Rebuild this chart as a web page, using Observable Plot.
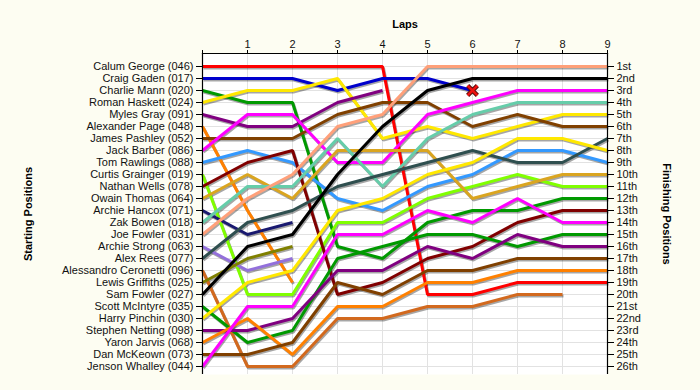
<!DOCTYPE html>
<html>
<head>
<meta charset="utf-8">
<script src="https://cdn.jsdelivr.net/npm/d3@7"></script>
<script src="https://cdn.jsdelivr.net/npm/@observablehq/plot@0.6"></script>
<style>
  html, body { margin: 0; padding: 0; background: #FDFDF2; }
  #chart svg { display: block; }
</style>
</head>
<body>
<div id="chart"></div>
<script>
// Drivers in starting-grid order
const drivers = [
  "Calum George (046)", "Craig Gaden (017)", "Charlie Mann (020)", "Roman Haskett (024)",
  "Myles Gray (091)", "Alexander Page (048)", "James Pashley (052)", "Jack Barber (086)",
  "Tom Rawlings (088)", "Curtis Grainger (019)", "Nathan Wells (078)", "Owain Thomas (064)",
  "Archie Hancox (071)", "Zak Bowen (018)", "Joe Fowler (031)", "Archie Strong (063)",
  "Alex Rees (077)", "Alessandro Ceronetti (096)", "Lewis Griffiths (025)", "Sam Fowler (027)",
  "Scott McIntyre (035)", "Harry Pinchin (030)", "Stephen Netting (098)", "Yaron Jarvis (068)",
  "Dan McKeown (073)", "Jenson Whalley (044)"
];

// Position of each driver (same order as drivers) at the end of each lap; null = no longer running
const lap0 = [1,2,3,4,5,6,7,8,9,10,11,12,13,14,15,16,17,18,19,20,21,22,23,24,25,26];
const lap1 = [1,2,4,3,6,13,7,5,8,20,9,10,15,11,12,18,14,26,17,16,24,19,23,22,25,21];
const lap2 = [1,2,4,3,6,19,7,5,9,20,8,12,14,11,10,17,13,26,16,15,23,18,22,25,24,21];
const lap3 = [1,3,16,2,4,null,5,9,12,14,20,8,null,7,6,null,11,22,null,10,17,13,18,21,19,15];
const lap4 = [1,2,17,7,3,null,4,9,13,14,19,8,null,11,5,null,10,22,null,6,16,12,18,21,20,15];
const lap5 = [20,2,14,6,null,null,4,5,11,12,17,8,null,7,1,null,9,21,null,3,15,10,16,19,18,13];
const lap6 = [20,3,13,7,null,null,6,4,10,11,16,12,null,5,1,null,8,21,null,2,15,9,17,19,18,14];
const lap7 = [19,null,13,6,null,null,5,3,8,10,14,11,null,4,1,null,9,20,null,2,16,7,15,18,17,12];
const lap8 = [19,null,12,5,null,null,6,3,8,11,13,10,null,4,1,null,9,20,null,2,15,7,16,18,17,14];
const lap9 = [19,null,12,5,null,null,6,3,9,11,13,10,null,4,1,null,7,null,null,2,15,8,16,18,17,14];

// Retirement marker
const dnfDriver = "Craig Gaden (017)";
const dnfLap = 6;

// Tick labels
const lapTicks = [0,1,2,3,4,5,6,7,8,9];
const lapLabels = ["","1","2","3","4","5","6","7","8","9"];
const finishLabels = ["1st","2nd","3rd","4th","5th","6th","7th","8th","9th","10th","11th","12th","13th",
  "14th","15th","16th","17th","18th","19th","20th","21st","22nd","23rd","24th","25th","26th"];

// Line colours (same order as drivers)
const colors = [
  "#FF0000", "#0000CC", "#009900", "#FFE800", "#800080", "#FF8000", "#804000", "#FF00FF",
  "#3399FF", "#80FF00", "#800000", "#DAA520", "#191970", "#66CDAA", "#FFA07A", "#9370DB",
  "#2F4F4F", "#D2691E", "#808000", "#000000", "#009900", "#FFE800", "#800080", "#FF8000",
  "#804000", "#FF00FF"
];

const laps = [lap0, lap1, lap2, lap3, lap4, lap5, lap6, lap7, lap8, lap9];
const rows = [];
drivers.forEach((name, i) => {
  laps.forEach((L, lap) => {
    if (L[i] != null) rows.push({driver: name, lap, pos: L[i], color: colors[i]});
  });
});
const dnfIndex = drivers.indexOf(dnfDriver);
const dnf = [{lap: dnfLap, pos: laps[dnfLap][dnfIndex]}];
const positions = d3.range(1, drivers.length + 1);

const chart = Plot.plot({
  width: 700,
  height: 390,
  marginLeft: 202,
  marginRight: 93,
  marginTop: 53,
  marginBottom: 16,
  style: {background: "transparent", fontFamily: "'Liberation Sans', Arial, sans-serif", fontSize: "11px", color: "#111"},
  x: {domain: [0, 9], axis: null},
  y: {domain: [1, 26], range: [66, 366], axis: null},
  color: {type: "identity"},
  marks: [
    Plot.frame({fill: "white", stroke: null}),
    Plot.gridX(lapTicks, {stroke: "#e2e2e2", strokeOpacity: 1}),
    Plot.gridY(positions, {stroke: "#e2e2e2", strokeOpacity: 1}),
    Plot.line(rows, {x: "lap", y: "pos", z: "driver", stroke: "#000", strokeOpacity: 0.35, strokeWidth: 3, dx: 1, dy: 1.5, strokeLinecap: "butt", strokeLinejoin: "miter"}),
    Plot.line(rows, {x: "lap", y: "pos", z: "driver", stroke: "color", strokeWidth: 3, strokeLinecap: "butt", strokeLinejoin: "miter"}),
    Plot.dot(dnf, {x: "lap", y: "pos", symbol: "times", r: 4.5, stroke: "#5a1010", strokeWidth: 4.5}),
    Plot.dot(dnf, {x: "lap", y: "pos", symbol: "times", r: 4.5, stroke: "#ee1111", strokeWidth: 2.5}),
    Plot.ruleX([0, 9], {stroke: "black", strokeWidth: 1.2}),
    Plot.frame({anchor: "top", stroke: "black", strokeWidth: 1.2}),
    Plot.axisX(lapTicks, {anchor: "top", tickSize: 4, tickPadding: 2, tickFormat: d => lapLabels[d], label: null, stroke: "black", fill: "#111"}),
    Plot.axisY(positions, {anchor: "left", tickSize: 6, tickPadding: 3, tickFormat: p => drivers[p - 1], label: null, stroke: "black", fill: "#111"}),
    Plot.axisY(positions, {anchor: "right", tickSize: 6, tickPadding: 3, tickFormat: p => finishLabels[p - 1], label: null, stroke: "black", fill: "#111"}),
    Plot.text(["Laps"], {frameAnchor: "top", dy: -33.5, fontWeight: "bold", fontSize: 11, fill: "#000", textAnchor: "middle"}),
    Plot.text(["Starting Positions"], {frameAnchor: "left", dx: -174, rotate: -90, fontWeight: "bold", fontSize: 11, fill: "#000", textAnchor: "middle"}),
    Plot.text(["Finishing Positions"], {frameAnchor: "right", dx: 59, rotate: 90, fontWeight: "bold", fontSize: 11, fill: "#000", textAnchor: "middle"})
  ]
});
document.getElementById("chart").appendChild(chart);
</script>
</body>
</html>
